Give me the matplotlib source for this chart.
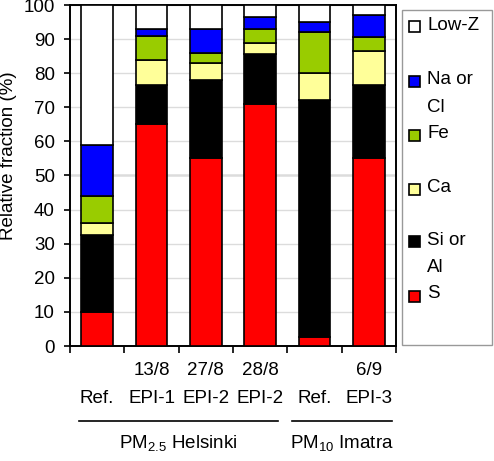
import matplotlib
matplotlib.use("Agg")
import matplotlib.pyplot as plt
import matplotlib.transforms as mtransforms
from matplotlib.patches import Rectangle
from matplotlib.lines import Line2D
import numpy as np

plt.rcParams['font.family'] = ['Liberation Sans', 'DejaVu Sans']
plt.rcParams['mathtext.fontset'] = 'custom'
plt.rcParams['mathtext.rm'] = 'Liberation Sans'
plt.rcParams['mathtext.it'] = 'Liberation Sans'

# Data
dates = ["", "13/8", "27/8", "28/8", "", "6/9"]
samples = ["Ref.", "EPI-1", "EPI-2", "EPI-2", "Ref.", "EPI-3"]
components = ["S", "Si or\nAl", "Ca", "Fe", "Na or\nCl", "Low-Z"]
S = [10, 65, 55, 71, 2.5, 55]
Si_Al = [22.5, 11.5, 23, 14.5, 69.5, 21.5]
Ca = [3.5, 7.5, 5, 3.5, 8, 10]
Fe = [8, 7, 3, 4, 12, 4]
Na_Cl = [15, 2, 7, 3.5, 3, 6.5]
Low_Z = [41, 7, 7, 3.5, 5, 3]
groups = ["PM$_{2.5}$ Helsinki", "PM$_{10}$ Imatra"]
group_span = [(-0.33, 3.33), (3.59, 5.43)]

colors = ["#ff0000", "#000000", "#ffff99", "#99cc00", "#0000ff", "#ffffff"]
series = [S, Si_Al, Ca, Fe, Na_Cl, Low_Z]

FS = 13.5
W, H = 494, 461
fig = plt.figure(figsize=(W / 100, H / 100), dpi=100)
ax = fig.add_axes([70 / W, 1 - 346 / H, 326 / W, 341 / H])

x = np.arange(len(samples))
bottom = np.zeros(len(samples))
for vals, c in zip(series, colors):
    ax.bar(x, vals, width=0.58, bottom=bottom, color=c, edgecolor='black',
           linewidth=1.2, zorder=3)
    bottom += np.array(vals)

ax.set_xlim(-0.5, len(samples) - 0.5)
ax.set_ylim(0, 100)
ax.set_yticks(np.arange(0, 101, 10))
ax.tick_params(axis='y', labelsize=FS, length=4, width=1.2, pad=7, direction='out')
ax.set_xticks(np.arange(-0.5, len(samples), 1))
ax.set_xticklabels([])
ax.tick_params(axis='x', length=5, width=1.2, direction='out')
ax.yaxis.grid(True, color='#dcdcdc', linewidth=1, zorder=0)
ax.axhline(50, color='#888888', linewidth=1, zorder=1)
for sp in ax.spines.values():
    sp.set_linewidth(1.4)
    sp.set_color('black')

ax.set_ylabel("Relative fraction (%)", fontsize=FS)
ax.yaxis.set_label_coords(-0.163, 0.558)

trans = mtransforms.blended_transform_factory(ax.transData, ax.transAxes)
px = 1 / 341.0
for xi, d, s in zip(x, dates, samples):
    if d:
        ax.text(xi, -(370 - 346) * px, d, transform=trans, ha='center', va='center', fontsize=FS)
    ax.text(xi, -(398 - 346) * px, s, transform=trans, ha='center', va='center', fontsize=FS)
for (a, b), g in zip(group_span, groups):
    ax.add_line(Line2D([a, b], [-(421 - 346) * px] * 2, transform=trans, color='black',
                       linewidth=1.2, clip_on=False))
    ax.text((a + b) / 2, -(443 - 346) * px, g, transform=trans, ha='center', va='center', fontsize=FS)

# Legend box (manual, to keep multi-line labels top aligned)
def fx(p):
    return p / W

def fy(p):
    return 1 - p / H

fig.add_artist(Rectangle((fx(402), fy(345)), fx(492) - fx(402), fy(10) - fy(345),
                         transform=fig.transFigure, facecolor='white', edgecolor='#999999',
                         linewidth=1.0))
leg_order = [5, 4, 3, 2, 1, 0]
ys = [27, 82, 136, 189, 242, 296]
for idx, yc in zip(leg_order, ys):
    fig.add_artist(Rectangle((fx(409), fy(yc + 5.5)), 11 / W, 11 / H, transform=fig.transFigure,
                             facecolor=colors[idx], edgecolor='black', linewidth=1.2))
    lines = components[idx].split("\n")
    for k, t in enumerate(lines):
        fig.text(fx(427), fy(yc - 2 + 27 * k), t, ha='left', va='center', fontsize=FS)

fig.savefig("out.png", dpi=100)
